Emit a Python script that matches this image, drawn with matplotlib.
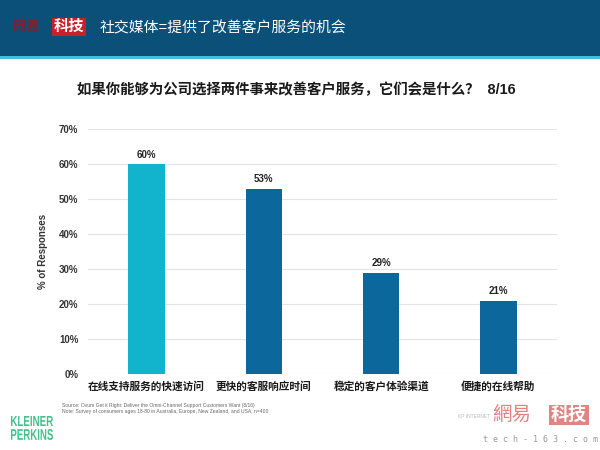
import matplotlib
matplotlib.use('Agg')
import matplotlib.pyplot as plt
from matplotlib.patches import Rectangle, PathPatch
from matplotlib.textpath import TextPath
from matplotlib.font_manager import FontProperties
from matplotlib.transforms import Affine2D
from matplotlib.ticker import FuncFormatter

plt.rcParams['font.family'] = ['Liberation Sans', 'Noto Sans CJK SC', 'DejaVu Sans']

categories = ['在线支持服务的快速访问', '更快的客服响应时间', '稳定的客户体验渠道', '便捷的在线帮助']
values = [60, 53, 29, 21]
bar_colors = ['#12b3cc', '#0b679c', '#0b679c', '#0b679c']
y_ticks = [0, 10, 20, 30, 40, 50, 60, 70]

header_text = '社交媒体=提供了改善客户服务的机会'
title_text = '如果你能够为公司选择两件事来改善客户服务，它们会是什么？  8/16'
source_lines = [
    'Source: Ovum Get it Right: Deliver the Omni-Channel Support Customers Want (8/16)',
    'Note: Survey of consumers ages 18-80 in Australia, Europe, New Zealand, and USA, n=400',
]
W, H = 600, 450


def fig_xy(px, py):
    return px / W, 1 - py / H


def squeezed_word(fig, word, x0, y0, x1, y1, color):
    # draw a word stretched into a pixel box (condensed logo look)
    tp = TextPath((0, 0), word, size=10, prop=FontProperties(family='Liberation Sans', weight='bold'))
    ext = tp.get_extents()
    sx = (x1 - x0) / ext.width
    sy = (y1 - y0) / ext.height
    tr = Affine2D().translate(-ext.x0, -ext.y0).scale(sx / W, sy / H).translate(x0 / W, 1 - y1 / H)
    fig.patches.append(PathPatch(tr.transform_path(tp), transform=fig.transFigure,
                                 facecolor=color, edgecolor='none'))


fig = plt.figure(figsize=(6, 4.5), dpi=100)
fig.patch.set_facecolor('white')

# header band
fig.patches.append(Rectangle(fig_xy(0, 56), 1, 56 / H, transform=fig.transFigure,
                             facecolor='#0b5079', edgecolor='none', zorder=0))
fig.patches.append(Rectangle(fig_xy(0, 59), 1, 3 / H, transform=fig.transFigure,
                             facecolor='#3fc3d3', edgecolor='none', zorder=0))
fig.text(*fig_xy(13, 27), '网易', color='#7a2236', fontsize=10, fontweight='bold',
         va='center', ha='left')
fig.text(*fig_xy(54, 27), '科技', color='white', fontsize=11, fontweight='bold',
         va='center', ha='left',
         bbox=dict(boxstyle='square,pad=0.12', facecolor='#c8202a', edgecolor='none'))
fig.text(*fig_xy(100, 28), header_text, color='white', fontsize=10.7,
         va='center', ha='left')

fig.text(*fig_xy(77, 90), title_text, color='#1a1a1a', fontsize=10.4,
         fontweight='bold', va='center', ha='left')

ax = fig.add_axes([88 / W, 1 - 374 / H, (557 - 88) / W, (374 - 129) / H])
x = range(len(categories))
bars = ax.bar(x, values, width=0.31, color=bar_colors, zorder=3)
for bar, v in zip(bars, values):
    ax.text(bar.get_x() + bar.get_width() / 2, v + 1.2, f'{v}%', ha='center', va='bottom',
            fontsize=7, fontweight='bold', color='#222222')

ax.set_xlim(-0.5, len(categories) - 0.5)
ax.set_ylim(0, 70)
ax.set_yticks(y_ticks)
ax.yaxis.set_major_formatter(FuncFormatter(lambda v, p: f'{int(v)}%'))
ax.set_xticks(list(x))
ax.set_xticklabels(categories, fontsize=7.7, fontweight='bold', color='#1a1a1a')
for lab in ax.get_yticklabels():
    lab.set_fontsize(7)
    lab.set_fontweight('bold')
    lab.set_color('#333333')
ax.tick_params(axis='both', length=0)
ax.tick_params(axis='x', pad=5)
ax.tick_params(axis='y', pad=7)
ax.grid(axis='y', color='#e4e4e4', linewidth=0.8, zorder=0)
for s in ax.spines.values():
    s.set_visible(False)
ax.set_ylabel('% of Responses', fontsize=7, fontweight='bold', color='#333333', labelpad=8)

# footer
squeezed_word(fig, 'KLEINER', 11, 416, 53, 426, '#44c08c')
squeezed_word(fig, 'PERKINS', 11, 429, 53, 440, '#44c08c')
fig.text(*fig_xy(62, 406), source_lines[0], color='#666666', fontsize=3.6,
         va='center', ha='left')
fig.text(*fig_xy(62, 412), source_lines[1], color='#666666', fontsize=3.6,
         va='center', ha='left')
fig.text(*fig_xy(490, 417), 'KP INTERNET', color='#bbbbbb', fontsize=3.5,
         va='center', ha='right')
fig.text(*fig_xy(492, 415), '網易', color='#e06a6a', fontsize=14,
         va='center', ha='left', alpha=0.85)
fig.text(*fig_xy(551, 415), '科技', color='white', fontsize=13, fontweight='bold',
         va='center', ha='left',
         bbox=dict(boxstyle='square,pad=0.1', facecolor='#e28484', edgecolor='none'))
fig.text(*fig_xy(598, 440), 't e c h - 1 6 3 . c o m', color='#999999', fontsize=6,
         va='center', ha='right', family='DejaVu Sans Mono')

fig.savefig('out.png', dpi=100)
plt.close(fig)
